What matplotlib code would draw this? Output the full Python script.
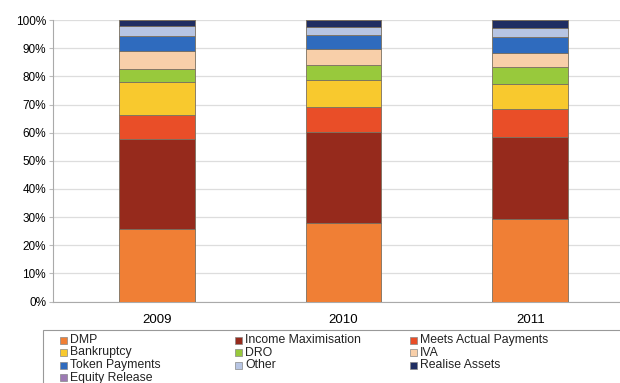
import numpy as np
import matplotlib.pyplot as plt
from matplotlib.patches import Rectangle

plt.rcParams["font.family"] = ["Liberation Sans", "DejaVu Sans"]

years = ["2009", "2010", "2011"]
labels = ["DMP", "Income Maximisation", "Meets Actual Payments",
          "Bankruptcy", "DRO", "IVA",
          "Token Payments", "Other", "Realise Assets",
          "Equity Release"]
colors = ["#F07F35", "#962A1C", "#E94E28",
          "#F8C92E", "#98C93C", "#F8CFA9",
          "#2F6BBE", "#B7C5E3", "#1F2D62",
          "#9C7AB3"]

# share of each outcome, % of cases
dmp        = [25.7, 28.0, 29.2]
income_max = [32.0, 32.4, 29.2]
meets      = [8.6, 8.9, 10.0]
bankruptcy = [11.9, 9.5, 8.9]
dro        = [4.5, 5.2, 6.2]
iva        = [6.5, 5.7, 5.0]
token      = [5.2, 5.1, 5.4]
other      = [3.6, 2.9, 3.2]
realise    = [2.0, 2.3, 2.9]
equity     = [0.0, 0.0, 0.0]
series = [dmp, income_max, meets, bankruptcy, dro, iva,
          token, other, realise, equity]

W, H = 620, 383
fig = plt.figure(figsize=(W / 100, H / 100), dpi=100)
ax = fig.add_axes([53 / W, 81.5 / H, (W - 53) / W, 281.3 / H])

x = np.arange(len(years))
bottom = np.zeros(len(years))
for vals, col in zip(series, colors):
    ax.bar(x, vals, width=0.406, bottom=bottom, color=col,
           edgecolor="#7a7060", linewidth=0.6, zorder=3)
    bottom += np.array(vals)

ax.set_xlim(-0.556, 2.481)
ax.set_ylim(0, 100)
ax.set_yticks(np.arange(0, 101, 10))
ax.set_yticklabels([f"{v}%" for v in range(0, 101, 10)])
ax.set_xticks(x)
ax.set_xticklabels(years, fontsize=9.5)
ax.tick_params(axis="y", length=3, color="#bbbbbb", labelsize=8.5, pad=2)
ax.tick_params(axis="x", length=0, pad=9)
ax.grid(axis="y", color="#dddddd", lw=0.9, zorder=0)
for s in ["top", "right"]:
    ax.spines[s].set_visible(False)
for s in ["left", "bottom"]:
    ax.spines[s].set_color("#aaaaaa")

# legend drawn by hand, row-major like the original
fig.add_artist(Rectangle((43 / W, -0.1), 1, (383 - 330) / H + 0.1,
                         transform=fig.transFigure, fill=False,
                         edgecolor="#999999", lw=0.8))
for i, (lab, col) in enumerate(zip(labels, colors)):
    r, c = divmod(i, 3)
    px = 60 + c * 175
    py = 340 + r * 12.5
    fig.add_artist(Rectangle((px / W, (H - py - 3.5) / H), 7 / W, 7 / H,
                             transform=fig.transFigure, facecolor=col,
                             edgecolor="#888888", lw=0.5))
    fig.text((px + 10) / W, (H - py) / H, lab, fontsize=8.8,
             va="center", ha="left", color="#222222")

plt.savefig("out.png", dpi=100)
plt.close()
